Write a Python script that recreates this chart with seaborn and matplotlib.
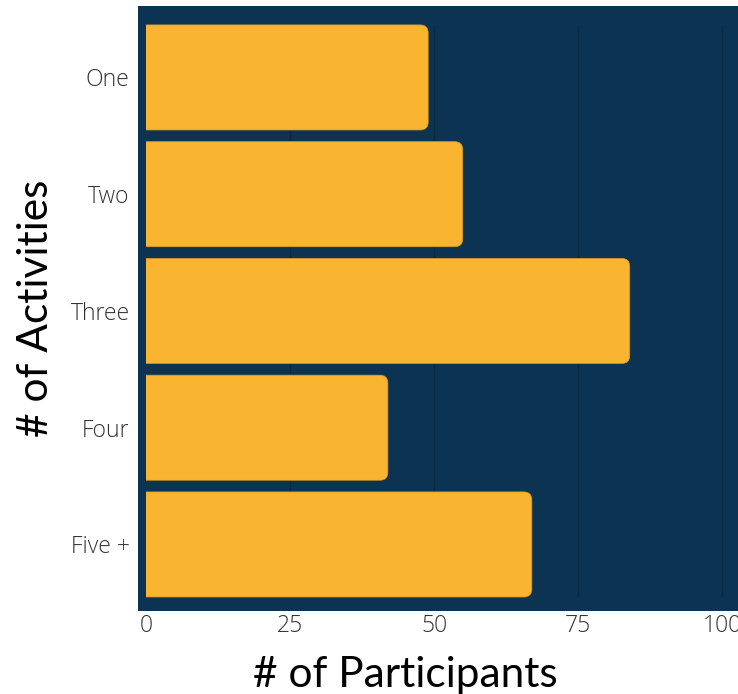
import matplotlib
matplotlib.use("Agg")
import matplotlib.pyplot as plt
from matplotlib.patches import FancyBboxPatch, Rectangle
import seaborn as sns
import pandas as pd

categories = ["One", "Two", "Three", "Four", "Five +"]
participants = [49, 55, 84, 42, 67]
x_ticks = [0, 25, 50, 75, 100]

NAVY = "#0d3352"
BAR = "#f9b52f"
GRID = "#0a2a42"

sns.set_theme(style="white")
plt.rcParams["font.family"] = ["Open Sans", "DejaVu Sans"]

df = pd.DataFrame({"activities": categories, "participants": participants})

fig = plt.figure(figsize=(7.38, 6.94), dpi=100)
ax = fig.add_axes([138 / 738, 83 / 694, 600 / 738, 605 / 694])
ax.set_facecolor(NAVY)

sns.barplot(data=df, y="activities", x="participants", orient="h",
            color=BAR, width=0.9, saturation=1, ax=ax, zorder=3)

ax.set_xlim(-1.39, 102.8)
ax.set_ylim(4.57, -0.612)

# gridlines spanning the band range
ax.vlines(x_ticks[1:], -0.45, 4.45, color=GRID, lw=1, zorder=1)

# rounded right corners
fig.canvas.draw()
x_px = ax.transData.transform([(1, 0)])[0][0] - ax.transData.transform([(0, 0)])[0][0]
y_px = abs(ax.transData.transform([(0, 1)])[0][1] - ax.transData.transform([(0, 0)])[0][1])
aspect = x_px / y_px
r = 8 / x_px
for p in list(ax.patches):
    x0, y0, w, h = p.get_x(), p.get_y(), p.get_width(), p.get_height()
    p.remove()
    fb = FancyBboxPatch((x0 - 3 * r, y0), w + 3 * r, h,
                        boxstyle=f"round,pad=0,rounding_size={r}",
                        mutation_aspect=aspect,
                        facecolor=BAR, edgecolor="#d49a26", lw=0.5, zorder=3)
    ax.add_patch(fb)
    clip = Rectangle((x0, y0 - 1), w + 10, h + 2, transform=ax.transData)
    fb.set_clip_path(clip)

for s in ax.spines.values():
    s.set_visible(False)

ax.set_xticks(x_ticks)
ax.tick_params(axis="both", length=0, colors="#333333", labelsize=16.5)
ax.tick_params(axis="x", pad=2)
ax.tick_params(axis="y", pad=6)
for lab in ax.get_xticklabels() + ax.get_yticklabels():
    lab.set_fontweight("light")
    lab.set_fontfamily(["Open Sans", "DejaVu Sans"])

ax.set_xlabel("# of Participants", fontsize=30.5, family=["Lato", "DejaVu Sans"],
              color="black")
ax.set_ylabel("# of Activities", fontsize=30.5, family=["Lato", "DejaVu Sans"],
              color="black")
ax.xaxis.set_label_coords(0.445, -0.105, transform=ax.transAxes)
ax.xaxis.label.set_va("center")
ax.yaxis.set_label_coords(-0.17, 0.5, transform=ax.transAxes)
ax.yaxis.label.set_va("center")

fig.savefig("out.png", dpi=100)
